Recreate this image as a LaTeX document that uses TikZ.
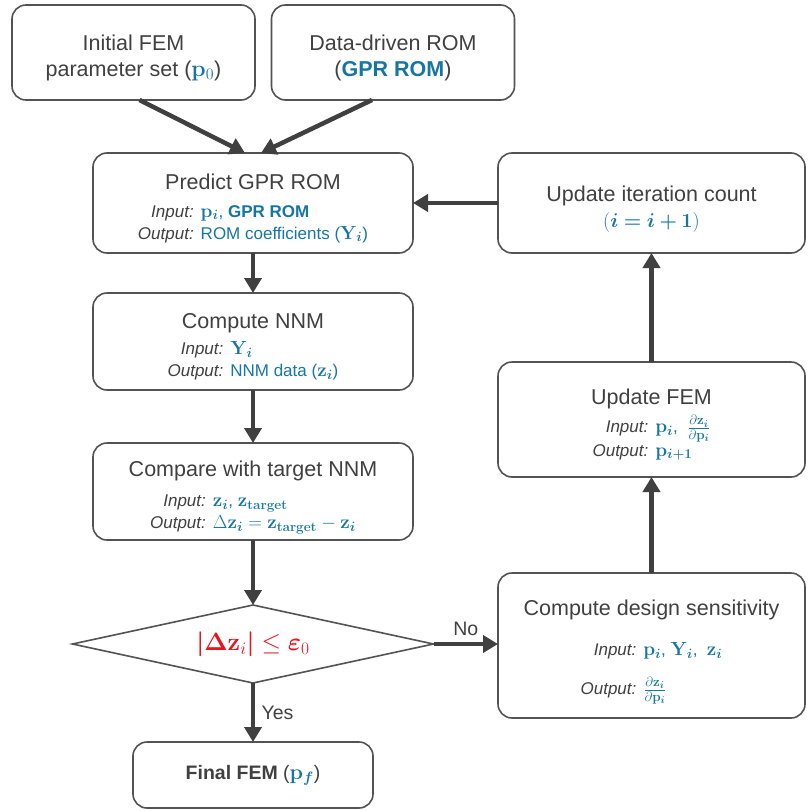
\RequirePackage{fix-cm}
\documentclass[tikz,border=0pt]{standalone}
\usepackage{amsmath,bm}
\usepackage[no-math]{fontspec}
\setmainfont{Liberation Sans}
\DeclareMathSizes{17}{19}{13.5}{10}
\DeclareMathSizes{21.5}{23}{16}{12}
\DeclareMathSizes{19.5}{21.5}{15}{11}
\DeclareMathSizes{18}{20}{14}{10}
\definecolor{txtgray}{RGB}{64,64,64}
\definecolor{romblue}{RGB}{22,118,163}
\definecolor{condred}{RGB}{232,20,28}
\usetikzlibrary{arrows.meta, positioning, shapes.geometric}
\newcommand{\ttl}[1]{{\fontsize{21.5}{26}\selectfont\rule{0pt}{28pt}#1}}
\newcommand{\bl}[1]{\textcolor{romblue}{#1}}
\newcommand{\ioblock}[3][2pt]{{\fontsize{17}{20}\selectfont
  \begin{tabular}[t]{@{}r@{\hspace{7pt}}l@{}}\textit{Input:} & #2\\[#1]
  \textit{Output:} & #3\end{tabular}}}

\begin{document}
\begin{tikzpicture}[x=1pt, y=-1pt,
  font=\fontsize{21.5}{26}\selectfont, text=txtgray,
  box/.style={rectangle, rounded corners=14pt, draw=txtgray!90, line width=1.6pt,
              align=center, inner sep=2pt, outer sep=0pt},
  iobox/.style={box, minimum width=320pt},
  rbox/.style={box, minimum width=307pt},
  cond/.style={diamond, aspect=4.6, draw=txtgray!90, line width=1.6pt, inner sep=0pt,
               outer sep=0pt, minimum width=361pt, minimum height=78pt},
  ar/.style={-{Triangle[length=15pt,width=17pt]}, line width=4.5pt, draw=txtgray}]
\useasboundingbox (0,0) rectangle (809,811);
% inputs
\node[box, minimum width=243pt, minimum height=95pt] (init) at (133.5,52.5)
  {\rule{0pt}{26pt}Initial FEM\\parameter set (\bl{$\mathbf{p}_0$})};
\node[box, minimum width=243pt, minimum height=95pt] (ddrom) at (393,52.5)
  {\rule{0pt}{26pt}Data-driven ROM\\(\bl{\textbf{GPR ROM}})};
% main column
\node[iobox, minimum height=100pt] (pred) at (253,203)
  {\ttl{Predict GPR ROM}\\[2pt]
   \ioblock{\bl{$\mathbf{p}_{\bm i}$, \textbf{GPR ROM}}}{\bl{ROM coefficients ($\mathbf{Y}_{\bm i}$)}}};
\node[iobox, minimum height=97pt, below=40pt of pred] (nnm)
  {\ttl{Compute NNM}\\[0pt]
   \ioblock{\bl{$\mathbf{Y}_{\bm i}$}}{\bl{NNM data ($\mathbf{z}_{\bm i}$)}}};
\node[iobox, minimum height=97pt, below=53pt of nnm] (cmp)
  {\ttl{Compare with target NNM}\\[4pt]
   \ioblock{\bl{$\mathbf{z}_{\bm i}$, $\mathbf{z}_{\mathbf{target}}$}}
           {\bl{$\Delta\mathbf{z}_{\bm i}=\mathbf{z}_{\mathbf{target}}-\mathbf{z}_{\bm i}$}}};
\node[cond, below=65pt of cmp] (chk)
  {\textcolor{condred}{\fontsize{25}{28}\selectfont$\bm{|\Delta}\mathbf{z}_i\bm{|}\leq\bm{\varepsilon}_0$}};
\node[box, minimum width=240pt, minimum height=66pt, below=59pt of chk] (final)
  {\fontsize{19.5}{24}\selectfont\textbf{Final FEM} (\bl{$\mathbf{p}_{\bm f}$})};
% right column
\node[rbox, minimum height=145pt] (sens) at (651.5,645.5)
  {\ttl{Compute design sensitivity}\\[14pt]
   \ioblock[16pt]{\bl{$\mathbf{p}_{\bm i}$, $\mathbf{Y}_{\bm i}$, \ $\mathbf{z}_{\bm i}$}}
           {\bl{$\tfrac{\partial\mathbf{z}_{\bm i}}{\partial\mathbf{p}_{\bm i}}$}}};
\node[rbox, minimum height=115pt, above=96pt of sens] (updfem)
  {\ttl{Update FEM}\\[2pt]
   \ioblock[0pt]{\bl{$\mathbf{p}_{\bm i}$, \ $\tfrac{\partial\mathbf{z}_{\bm i}}{\partial\mathbf{p}_{\bm i}}$}}
           {\bl{$\mathbf{p}_{\bm{i+1}}$}}};
\node[rbox, minimum height=100pt, above=109pt of updfem] (upditer)
  {\ttl{Update iteration count}\\[0pt]
   {\fontsize{18}{22}\selectfont\bl{$(\bm{i=i+1})$}}};
% connectors
\draw[ar] ([xshift=6pt]init.south) -- ([xshift=-8pt]pred.north);
\draw[ar] ([xshift=-21pt]ddrom.south) -- ([xshift=8pt]pred.north);
\draw[ar] (pred) -- (nnm);
\draw[ar] (nnm) -- (cmp);
\draw[ar] (cmp) -- (chk);
\draw[ar] (chk.east) -- node[above=3pt, font=\fontsize{19.5}{24}\selectfont] (no) {No} (chk.east -| sens.west);
\draw[ar] (chk) -- node[right=3pt, font=\fontsize{19.5}{24}\selectfont] (yes) {Yes} (final);
\draw[ar] (sens) -- (updfem);
\draw[ar] (updfem) -- (upditer);
\draw[ar] (upditer) -- (pred);
\end{tikzpicture}
\end{document}
